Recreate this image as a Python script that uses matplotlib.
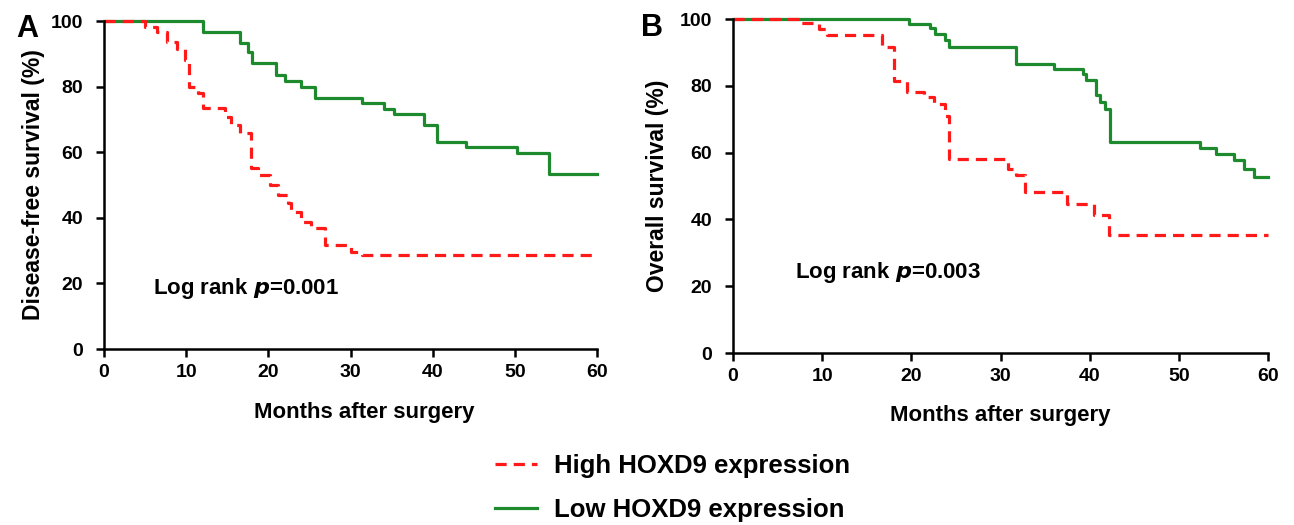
import matplotlib
matplotlib.use("Agg")
import matplotlib.pyplot as plt
from matplotlib.lines import Line2D

plt.rcParams['font.family'] = ['Liberation Sans', 'DejaVu Sans']
plt.rcParams['font.weight'] = 'bold'

# Kaplan-Meier curves (months, % surviving)
a_low_t = [0, 12, 16.5, 17.5, 18, 20.9, 22, 24, 25.7, 31.4, 34.1, 35.3, 39, 40.5, 44, 50.2, 54.2, 60]
a_low_s = [100, 96.7, 93.2, 90.6, 87.1, 83.5, 81.8, 79.8, 76.4, 74.9, 73.3, 71.5, 68.3, 63.2, 61.7, 59.9, 53.3, 53.3]

a_high_t = [0, 5, 6.5, 7.7, 8.9, 9.9, 10.4, 11.4, 12, 14.7, 15.4, 16.5, 17.9, 18.7, 20.2, 21.2,
            22.4, 22.8, 24, 25.2, 26.9, 30.1, 31.4, 60]
a_high_s = [100, 98.3, 96.7, 93.7, 91.6, 88, 80, 78, 73.4, 70.8, 68.3, 65.8, 55.2, 53, 50, 47,
            44.5, 41.9, 38.8, 36.8, 31.7, 29.7, 28.7, 28.7]

b_low_t = [0, 19.7, 22.1, 22.7, 23.8, 24.2, 31.7, 36, 39.2, 39.6, 40.7, 41.2, 41.7, 42.3,
           52.4, 54.2, 56.2, 57.3, 58.4, 60]
b_low_s = [100, 98.6, 97.4, 95.5, 93.7, 91.7, 86.5, 85.0, 83.4, 81.7, 77.2, 75.2, 73.2, 63.2,
           61.4, 59.7, 57.9, 55.2, 52.7, 52.7]

b_high_t = [0, 7.5, 9.6, 10.5, 16.7, 18, 19.5, 21.4, 22.5, 23.8, 24.2, 30.8, 31.7, 32.7, 37.5, 40.5, 42.2, 60]
b_high_s = [100, 98.9, 96.9, 95.1, 91.7, 81.3, 78.1, 76.6, 74.6, 71.1, 58.2, 55.2, 53.2, 48.2, 44.7, 41.2, 35.2, 35.2]

xticks = [0, 10, 20, 30, 40, 50, 60]
yticks = [0, 20, 40, 60, 80, 100]

red = '#ff1a1a'
green = '#1e8a2e'

fig = plt.figure(figsize=(12.94, 5.25), dpi=100)
axA = fig.add_axes([0.0804, 0.3352, 0.381, 0.6248])
axB = fig.add_axes([0.5665, 0.3276, 0.4134, 0.6362])


def km_panel(ax, lo_t, lo_s, hi_t, hi_s, ylabel, ptext, px, py, letter, lx, ly, xlab_x, xlab_y, ypad):
    ax.step(lo_t, lo_s, where='post', color=green, lw=2.3, clip_on=False)
    ax.step(hi_t, hi_s, where='post', color=red, lw=2.3, ls=(0, (3.5, 2.2)), clip_on=False)
    ax.set_xlim(0, 60)
    ax.set_ylim(0, 100)
    ax.set_xticks(xticks)
    ax.set_yticks(yticks)
    for s in ['top', 'right']:
        ax.spines[s].set_visible(False)
    for s in ['left', 'bottom']:
        ax.spines[s].set_linewidth(1.8)
    ax.tick_params(direction='out', length=6, width=1.8, labelsize=14)
    ax.tick_params(axis='y', pad=9)
    ax.tick_params(axis='x', pad=5)
    for lab in ax.get_xticklabels() + ax.get_yticklabels():
        lab.set_fontweight('bold')
    ax.set_xlabel('Months after surgery', fontsize=16, fontweight='bold')
    ax.xaxis.set_label_coords(xlab_x, xlab_y)
    ax.set_ylabel(ylabel, fontsize=16.5, fontweight='bold', labelpad=ypad)
    ax.text(px, py, 'Log rank $\\boldsymbol{p}$=' + ptext, fontsize=16, fontweight='bold',
            va='center', ha='left')
    fig.text(lx, ly, letter, fontsize=22, fontweight='bold', ha='center', va='center')


km_panel(axA, a_low_t, a_low_s, a_high_t, a_high_s, 'Disease-free survival (%)',
         '0.001', 5.9, 18.6, 'A', 27 / 1294, 1 - 29 / 525, 0.527, -0.16, 4)
km_panel(axB, b_low_t, b_low_s, b_high_t, b_high_s, 'Overall survival (%)',
         '0.003', 6.9, 24, 'B', 652 / 1294, 1 - 28 / 525, 0.5, -0.155, 8)

handles = [Line2D([], [], color=red, lw=2.3, ls=(0, (3.5, 2.2))),
           Line2D([], [], color=green, lw=2.3)]
fig.legend(handles, ['High HOXD9 expression', 'Low HOXD9 expression'],
           loc='center', bbox_to_anchor=(673 / 1294, 1 - 488 / 525), frameon=False,
           prop={'size': 18.5, 'weight': 'bold'}, handlelength=1.6, handletextpad=0.7,
           labelspacing=0.75)

fig.savefig('out.png', dpi=100)
